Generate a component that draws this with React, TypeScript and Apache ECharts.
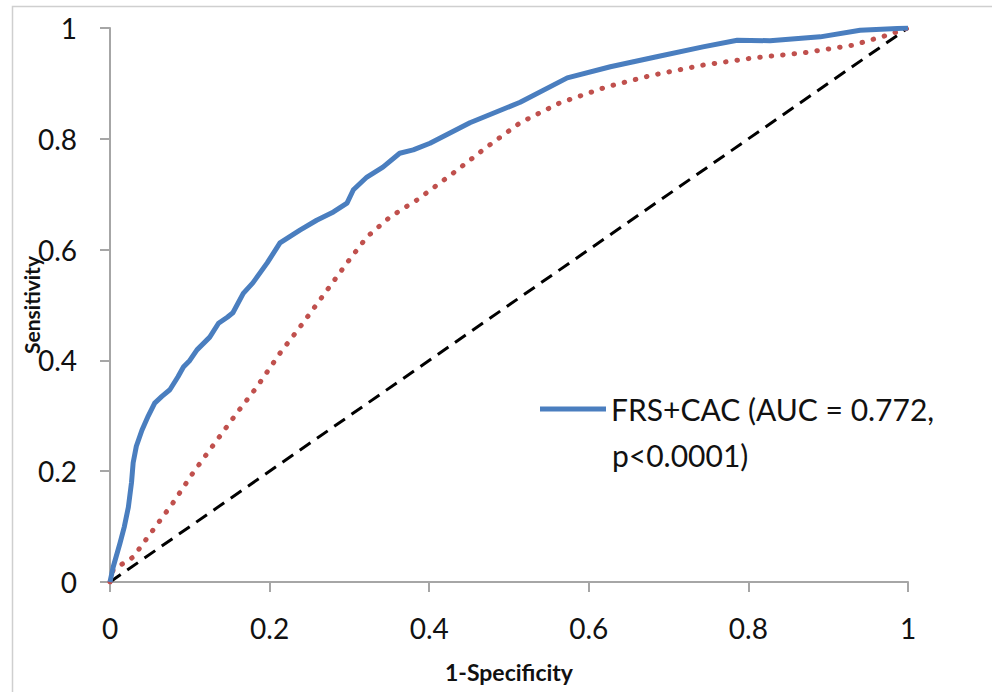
import React, { useEffect, useRef } from "react";
import * as echarts from "echarts";

const blueX = [0, 0.004, 0.0125, 0.018, 0.023, 0.027, 0.029, 0.033, 0.04, 0.048, 0.056, 0.065, 0.075, 0.085, 0.092, 0.1, 0.109, 0.125, 0.136, 0.147, 0.154, 0.167, 0.179, 0.197, 0.213, 0.238, 0.259, 0.28, 0.297, 0.305, 0.322, 0.342, 0.363, 0.38, 0.401, 0.451, 0.514, 0.573, 0.627, 0.685, 0.743, 0.786, 0.827, 0.89, 0.94, 1.0];
const blueY = [0, 0.027, 0.07, 0.1, 0.135, 0.18, 0.215, 0.245, 0.274, 0.3, 0.323, 0.335, 0.347, 0.37, 0.388, 0.4, 0.419, 0.442, 0.467, 0.478, 0.486, 0.521, 0.54, 0.576, 0.612, 0.635, 0.653, 0.668, 0.684, 0.708, 0.731, 0.749, 0.774, 0.78, 0.792, 0.829, 0.866, 0.91, 0.93, 0.948, 0.966, 0.978, 0.977, 0.984, 0.996, 1.0];

const redX = [0, 0.004, 0.029, 0.054, 0.079, 0.104, 0.134, 0.159, 0.184, 0.213, 0.238, 0.263, 0.297, 0.322, 0.351, 0.385, 0.43, 0.472, 0.514, 0.564, 0.623, 0.68, 0.743, 0.806, 0.868, 0.931, 0.974, 1];
const redY = [0, 0.022, 0.045, 0.094, 0.143, 0.197, 0.256, 0.305, 0.352, 0.413, 0.46, 0.509, 0.576, 0.623, 0.659, 0.69, 0.738, 0.785, 0.829, 0.865, 0.894, 0.915, 0.933, 0.946, 0.955, 0.969, 0.987, 1];

const refX = [0, 1];
const refY = [0, 1];

const blueName = "FRS+CAC (AUC = 0.772, p<0.0001)";
const legendLines = ["FRS+CAC (AUC = 0.772,", "p<0.0001)"];
const xTitle = "1-Specificity";
const yTitle = "Sensitivity";

const zip = (xs: number[], ys: number[]) => xs.map((x, i) => [x, ys[i]]);

export default function App() {
  const ref = useRef<HTMLDivElement>(null);
  useEffect(() => {
    if (!ref.current) return;
    const chart = echarts.init(ref.current, null, { renderer: "svg" });
    const font = "Lato, 'Open Sans', sans-serif";
    chart.setOption({
      animation: false,
      backgroundColor: "#fff",
      textStyle: { fontFamily: font },
      grid: { left: 110, right: 84, top: 28, bottom: 110, containLabel: false },
      graphic: [
        {
          type: "rect",
          shape: { x: 12.5, y: 6.5, width: 1100, height: 800 },
          style: { fill: "none", stroke: "#cfcfcf", lineWidth: 1.5 },
          silent: true,
          z: -1,
        },
        {
          type: "text",
          x: 612,
          y: 455,
          style: {
            text: legendLines[1],
            fontFamily: font,
            fontSize: 30,
            fill: "#111",
            verticalAlign: "middle",
            align: "left",
          },
        },
      ],
      legend: {
        data: [{ name: blueName, icon: "rect" }],
        left: 535,
        top: 389,
        itemWidth: 66,
        itemHeight: 5,
        itemGap: 0,
        formatter: () => legendLines[0],
        textStyle: {
          fontFamily: font,
          fontSize: 30,
          color: "#111",
        },
      },
      xAxis: {
        type: "value",
        min: 0,
        max: 1,
        interval: 0.2,
        name: xTitle,
        nameLocation: "middle",
        nameGap: 78,
        nameMoveOverlap: false,
        nameTextStyle: { fontFamily: font, fontSize: 23, fontWeight: "bold", color: "#111" },
        axisLine: { lineStyle: { color: "#a6a6a6", width: 2 } },
        axisTick: { show: true, inside: false, length: 10, lineStyle: { color: "#a6a6a6", width: 2 } },
        axisLabel: { margin: 32, fontSize: 28, color: "#111", fontFamily: font },
        splitLine: { show: false },
      },
      yAxis: {
        type: "value",
        min: 0,
        max: 1,
        interval: 0.2,
        name: yTitle,
        nameLocation: "middle",
        nameGap: 68,
        nameRotate: 90,
        nameMoveOverlap: false,
        nameTextStyle: { fontFamily: font, fontSize: 21, fontWeight: "bold", color: "#111" },
        axisLine: { show: true, lineStyle: { color: "#a6a6a6", width: 2 } },
        axisTick: { show: true, inside: false, length: 10, lineStyle: { color: "#a6a6a6", width: 2 } },
        axisLabel: { margin: 33, fontSize: 28, color: "#111", fontFamily: font },
        splitLine: { show: false },
      },
      series: [
        {
          name: "Reference",
          type: "line",
          data: zip(refX, refY),
          showSymbol: false,
          symbol: "none",
          lineStyle: { color: "#000", width: 3, type: [13, 8] },
          z: 1,
        },
        {
          name: "FRS",
          type: "line",
          data: zip(redX, redY),
          showSymbol: false,
          symbol: "none",
          lineStyle: { color: "#C0504D", width: 5, type: [0.5, 11], cap: "round" },
          z: 2,
        },
        {
          name: blueName,
          type: "line",
          data: zip(blueX, blueY),
          showSymbol: false,
          symbol: "none",
          itemStyle: { color: "#4A7EBF" },
          lineStyle: { color: "#4A7EBF", width: 5, join: "round" },
          z: 3,
        },
      ],
    });
    return () => chart.dispose();
  }, []);
  return (
    <div
      ref={ref}
      style={{ position: "fixed", left: 0, top: 0, width: 992, height: 692 }}
    />
  );
}
